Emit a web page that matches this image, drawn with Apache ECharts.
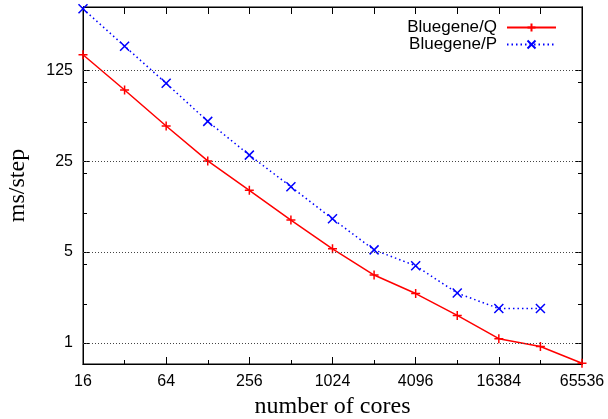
<!DOCTYPE html>
<html>
<head>
<meta charset="utf-8">
<script src="https://cdn.jsdelivr.net/npm/echarts@6/dist/echarts.min.js"></script>
<style>
    html, body {margin:0;padding:0;background:#ffffff;}
    #chart {width:608px;height:419px;}
</style>
</head>
<body>
<div id="chart"></div>
<script>
    // data
    var cores = [16, 32, 64, 128, 256, 512, 1024, 2048, 4096, 8192, 16384, 32768, 65536];
    var bluegeneQ = [164, 88, 46.5, 25.1, 14.9, 8.8, 5.3, 3.33, 2.4, 1.63, 1.08, 0.94, 0.7];
    var bluegeneP = [370, 191, 99, 50.5, 27.8, 15.9, 9.0, 5.2, 3.92, 2.42, 1.84, 1.84];

    var xLabels = [16, 64, 256, 1024, 4096, 16384, 65536];
    var xMinor = [32, 128, 512, 2048, 8192, 32768];
    var yLabels = [1, 5, 25, 125];
    var yMinor = [2, 4, 10, 20, 50, 100];

    function pairs(ys) {
        var out = [];
        for (var i = 0; i < ys.length; i++) {
            out.push([cores[i], ys[i]]);
        }
        return out;
    }

    var labelFont = {color: '#000', fontSize: 16, fontFamily: 'Liberation Sans'};
    var nameFont = {color: '#000', fontSize: 24, fontFamily: 'Liberation Serif'};
    var yMin = 0.69, yMax = 382;

    function xAxisCfg(pos, ticks, len, withLabels) {
        return {
            type: 'log', logBase: 2, min: 16, max: 65536, position: pos,
            axisLine: {show: true, onZero: false, lineStyle: {color: '#000', width: 1}},
            axisTick: {show: true, inside: true, length: len, customValues: ticks, lineStyle: {color: '#000'}},
            axisLabel: withLabels ? Object.assign({show: true, margin: 10, customValues: xLabels,
                formatter: function (v) { return String(Math.round(v)); }}, labelFont) : {show: false},
            splitLine: {show: false}
        };
    }

    function yAxisCfg(pos, ticks, len, withLabels) {
        return {
            type: 'log', logBase: 5, min: yMin, max: yMax, position: pos,
            axisLine: {show: true, onZero: false, lineStyle: {color: '#000', width: 1}},
            axisTick: {show: true, inside: true, length: len, customValues: ticks, lineStyle: {color: '#000'}},
            axisLabel: withLabels ? Object.assign({show: true, margin: 10, customValues: yLabels,
                formatter: function (v) { return String(Math.round(v)); }}, labelFont) : {show: false},
            splitLine: {show: false}
        };
    }

    var chart = echarts.init(document.getElementById('chart'), null, {renderer: 'canvas'});

    var bottomX = xAxisCfg('bottom', xLabels, 7, true);
    bottomX.name = 'number of cores';
    bottomX.nameLocation = 'middle';
    bottomX.nameGap = 31;
    bottomX.nameTextStyle = nameFont;

    var leftY = yAxisCfg('left', yLabels, 7, true);
    leftY.name = 'ms/step';
    leftY.nameLocation = 'middle';
    leftY.nameGap = 53;
    leftY.nameTextStyle = nameFont;

    var option = {
        animation: false,
        backgroundColor: '#ffffff',
        grid: {left: 83, right: 26, top: 7, bottom: 55, containLabel: false, outerBoundsMode: 'none',
            show: true, borderColor: '#000', borderWidth: 1},
        legend: {
            orient: 'vertical', right: 46, top: 14, align: 'right',
            itemWidth: 49, itemHeight: 10, itemGap: 0,
            textStyle: {color: '#000', fontSize: 17, fontFamily: 'Liberation Sans', lineHeight: 17, padding: [0, 5, 0, 0]},
            data: ['Bluegene/Q', 'Bluegene/P']
        },
        xAxis: [
            bottomX,
            xAxisCfg('bottom', xMinor, 4, false),
            xAxisCfg('top', cores, 7, false)
        ],
        yAxis: [
            leftY,
            yAxisCfg('left', yMinor, 4, false),
            yAxisCfg('right', yLabels, 7, false),
            yAxisCfg('right', yMinor, 4, false)
        ],
        series: [
            {
                name: 'Bluegene/Q', type: 'line', xAxisIndex: 0, yAxisIndex: 0,
                data: pairs(bluegeneQ),
                symbol: 'path://M0,5L10,5M5,0L5,10', symbolSize: 9,
                lineStyle: {color: '#ff0000', width: 1.5},
                itemStyle: {color: '#ff0000', borderColor: '#ff0000', borderWidth: 1.5},
                markLine: {
                    silent: true, symbol: 'none', label: {show: false},
                    lineStyle: {color: '#444', type: [1, 2], width: 1},
                    data: yLabels.map(function (v) { return {yAxis: v}; })
                },
                z: 3
            },
            {
                name: 'Bluegene/P', type: 'line', xAxisIndex: 0, yAxisIndex: 0,
                data: pairs(bluegeneP),
                symbol: 'path://M0,0L10,10M10,0L0,10', symbolSize: 9,
                lineStyle: {color: '#0000ff', width: 1.5, type: [1.5, 3]},
                itemStyle: {color: '#0000ff', borderColor: '#0000ff', borderWidth: 1.5},
                z: 3
            }
        ]
    };

    chart.setOption(option);
</script>
</body>
</html>
